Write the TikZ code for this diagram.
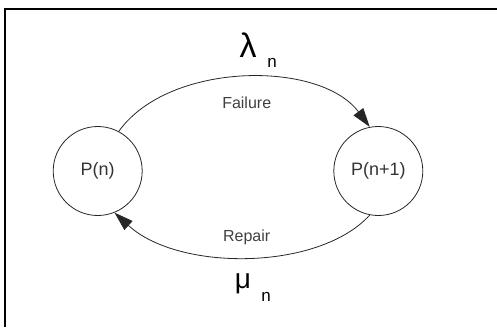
\documentclass[tikz,border=0pt]{standalone}
\usepackage{fontspec}
\setmainfont{Liberation Sans}
\usepackage{tikz}
\usetikzlibrary{arrows.meta}

\tikzset{
  state/.style={draw=black!85, circle, line width=0.8pt, minimum size=89pt,
    inner sep=0pt, font=\fontsize{18}{20}\selectfont, text=black!80},
  trans/.style={draw=black!85, line width=0.8pt,
    -{Triangle[length=19pt,width=12pt]}},
  arclabel/.style={font=\fontsize{16}{18}\selectfont, text=black!75},
  ratelabel/.style={font=\fontsize{34}{36}\selectfont, text=black}
}

\begin{document}
\begin{tikzpicture}[x=1pt,y=-1pt]
\useasboundingbox (0,0) rectangle (497,327);

% Frame (only top and left edges visible)
\draw[black, line width=1.4pt] (5,327) -- (5,9) -- (497,9);

% States
\node[state] (pn)  at (97.7,171) {P(n)};
\node[state] (pn1) at (378.3,171) {P(n+1)};

% Transitions
\draw[trans] (pn.62) .. controls +(50,-70) and +(-50,-67) .. (pn1.101);
\draw[trans] (pn1.-101) .. controls +(-51,56) and +(64,59) .. (pn.-68);

% Labels
\node[arclabel] (fail) at (246.7,103) {Failure};
\node[arclabel] (rep)  at (246.7,237) {Repair};
\node[ratelabel] (lam) at (248,45) {λ};
\node[font=\fontsize{17}{19}\selectfont] (lamn) at (272,63) {n};
\node[font=\fontsize{28}{30}\selectfont] (mu) at (243,284) {μ};
\node[font=\fontsize{17}{19}\selectfont] (mun) at (266,297) {n};
\end{tikzpicture}
\end{document}
